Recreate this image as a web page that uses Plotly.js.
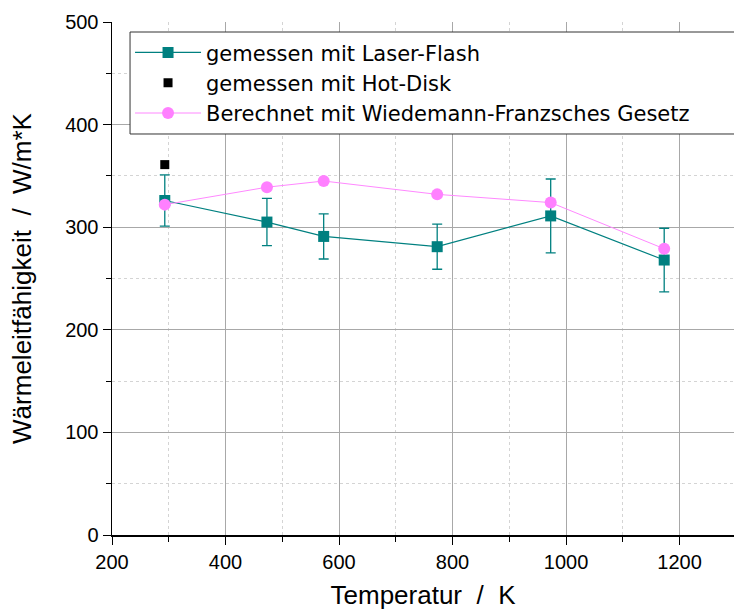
<!DOCTYPE html>
<html><head><meta charset="utf-8">
<script src="https://cdn.plot.ly/plotly-3.0.1.min.js"></script>
<style>body{margin:0;background:#fff}#chart{width:734px;height:614px}</style>
</head><body><div id="chart"></div>
<script>
const temperature = [293, 473, 573, 773, 973, 1173];
const laserFlash = [326, 305, 291, 281, 311, 268];
const laserFlashErr = [25, 23, 22, 22, 36, 31];
const hotDiskT = [293];
const hotDisk = [361];
const wiedemannFranz = [322, 339, 345, 332, 324, 279];
const names = ["gemessen mit Laser-Flash", "gemessen mit Hot-Disk", "Berechnet mit Wiedemann-Franzsches Gesetz"];

const tickFont = {family: "Liberation Sans, Arial", size: 20, color: "#000"};
const traces = [
  {x: temperature, y: laserFlash, name: names[0], legendgroup: "a", mode: "lines+markers",
   line: {color: "#008080", width: 1.2},
   marker: {symbol: "square", size: 11, color: "#008080"},
   error_y: {type: "data", array: laserFlashErr, visible: true, color: "#008080", thickness: 1.3, width: 5}},
  {x: hotDiskT, y: hotDisk, name: names[1], legendgroup: "b", mode: "markers",
   marker: {symbol: "square", size: 9, color: "#000"}},
  {x: temperature, y: wiedemannFranz, name: names[2], legendgroup: "c", mode: "lines+markers",
   line: {color: "#ff88ff", width: 1},
   marker: {symbol: "circle", size: 12, color: "#ff80ff"}}
];
const layout = {
  width: 734, height: 614,
  margin: {l: 112, r: 0, t: 22, b: 79},
  paper_bgcolor: "#fff", plot_bgcolor: "#fff",
  showlegend: true,
  legend: {x: 0.029, y: 0.98, xanchor: "left", yanchor: "top",
    borderwidth: 0, bgcolor: "rgba(0,0,0,0)",
    font: {family: "DejaVu Sans, Noto Sans, sans-serif", size: 21, color: "#000"},
    traceorder: "grouped", tracegroupgap: 0, itemwidth: 66},
  shapes: [{type: "rect", xref: "paper", yref: "paper", x0: 0.029, x1: 1.05, y0: 0.7817, y1: 0.9805,
    line: {color: "#333", width: 1}, fillcolor: "#fff", layer: "above"}],
  xaxis: {range: [200, 1296], dtick: 200, tick0: 200, showline: true, linecolor: "#000", linewidth: 1.5,
    ticks: "outside", ticklen: 8, tickcolor: "#000", tickfont: tickFont,
    showgrid: true, gridcolor: "#a8a8a8", gridwidth: 1, zeroline: false,
    minor: {dtick: 100, ticks: "outside", ticklen: 5, tickcolor: "#000", showgrid: true, gridcolor: "#d4d4d4", griddash: "dot"},
    title: {text: "Temperatur  /  K", font: {family: "Liberation Sans, Arial", size: 26, color: "#000"}, standoff: 14}},
  yaxis: {range: [0, 500], dtick: 100, showline: true, linecolor: "#000", linewidth: 1.5,
    ticks: "outside", ticklen: 8, tickcolor: "#000", tickfont: tickFont,
    showgrid: true, gridcolor: "#a8a8a8", gridwidth: 1, zeroline: false,
    minor: {dtick: 50, ticks: "outside", ticklen: 5, tickcolor: "#000", showgrid: true, gridcolor: "#d4d4d4", griddash: "dot"},
    title: {text: "Wärmeleitfähigkeit  /  W/m*K", font: {family: "Liberation Sans, Arial", size: 26, color: "#000"}, standoff: 26}}
};
Plotly.newPlot("chart", traces, layout, {displayModeBar: false, staticPlot: true});
</script></body></html>
